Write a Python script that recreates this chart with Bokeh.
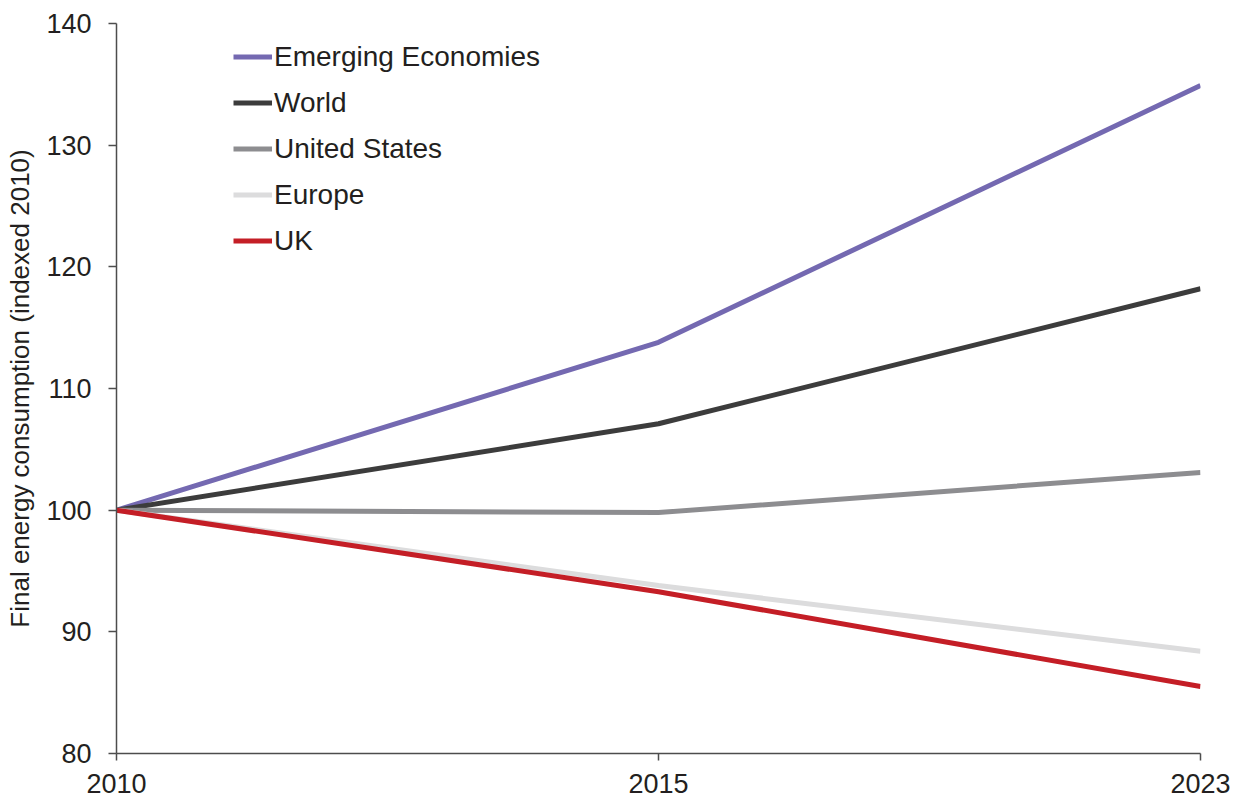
from bokeh.plotting import figure
from bokeh.models import Range1d, FixedTicker, Legend, LegendItem
from bokeh.embed import file_html
from bokeh.resources import INLINE

years = ["2010", "2015", "2023"]
emerging = [100, 113.8, 134.9]
world = [100, 107.1, 118.2]
united_states = [100, 99.8, 103.1]
europe = [100, 93.8, 88.4]
uk = [100, 93.3, 85.5]

series = [
    ("Emerging Economies", emerging, "#7469B1"),
    ("World", world, "#3C3C3C"),
    ("United States", united_states, "#8D8D90"),
    ("Europe", europe, "#DCDCDD"),
    ("UK", uk, "#C41E26"),
]
y_ticks = [80, 90, 100, 110, 120, 130, 140]

FONT = "Liberation Sans"
TXT = "#231F20"

p = figure(width=1238, height=798, output_backend="svg", toolbar_location=None,
           x_range=Range1d(0, len(years) - 1), y_range=Range1d(80, 140),
           min_border_left=116, min_border_top=23, min_border_bottom=45, min_border_right=38)
p.outline_line_color = None
p.grid.grid_line_color = None
p.background_fill_color = "white"
p.border_fill_color = "white"

xs = list(range(len(years)))
rmap = {}
for name, vals, col in series:
    rmap[name] = p.line(xs, vals, line_color=col, line_width=5)

p.xaxis.ticker = FixedTicker(ticks=xs)
p.xaxis.major_label_overrides = {i: y for i, y in enumerate(years)}
p.yaxis.ticker = FixedTicker(ticks=y_ticks)
for ax in (p.xaxis, p.yaxis):
    ax.axis_line_color = "#4D4D4D"
    ax.axis_line_width = 1.5
    ax.major_tick_line_color = "#4D4D4D"
    ax.major_tick_line_width = 1.5
    ax.major_tick_in = 0
    ax.major_tick_out = 8
    ax.minor_tick_line_color = None
    ax.major_label_text_font = FONT
    ax.major_label_text_font_size = "27px"
    ax.major_label_text_color = TXT
p.xaxis.major_tick_out = 7
p.yaxis.major_label_standoff = 17
p.xaxis.major_label_standoff = 13
p.yaxis.axis_label = "Final energy consumption (indexed 2010)"
p.yaxis.axis_label_text_font = FONT
p.yaxis.axis_label_text_font_size = "26px"
p.yaxis.axis_label_text_font_style = "normal"
p.yaxis.axis_label_text_color = TXT
p.yaxis.axis_label_standoff = 8

legend = Legend(items=[LegendItem(label=n, renderers=[rmap[n]]) for n, _, _ in series],
                location=(117, 496), margin=0, padding=0, spacing=13,
                glyph_width=39, glyph_height=33, label_height=33, label_standoff=2,
                label_text_font=FONT, label_text_font_size="28px", label_text_color=TXT,
                border_line_color=None, background_fill_alpha=0)
p.add_layout(legend)

open("out.html", "w").write(file_html(p, INLINE))
